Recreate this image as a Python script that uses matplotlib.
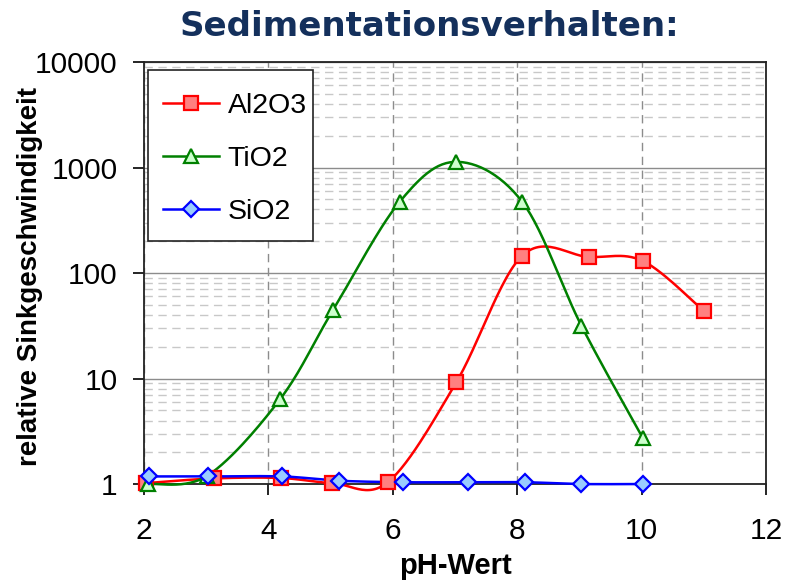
import numpy as np
import matplotlib.pyplot as plt
from matplotlib.patches import Rectangle
from matplotlib.ticker import FixedLocator, FixedFormatter, LogLocator, NullFormatter

# pH-Werte und relative Sinkgeschwindigkeiten
al2o3_ph = [2.04, 3.12, 4.20, 5.03, 5.92, 7.02, 8.08, 9.15, 10.02, 11.0]
al2o3_v = [1.02, 1.13, 1.14, 1.02, 1.04, 9.2, 146, 142, 130, 43.7]

tio2_ph = [2.06, 3.02, 4.19, 5.04, 6.11, 7.02, 8.08, 9.03, 10.02]
tio2_v = [1.0, 1.2, 6.4, 44.7, 473, 1132, 473, 31.8, 2.72]

sio2_ph = [2.08, 3.03, 4.22, 5.13, 6.16, 7.21, 8.12, 9.03, 10.02]
sio2_v = [1.18, 1.18, 1.18, 1.075, 1.04, 1.04, 1.04, 1.0, 1.0]

y_ticks = [1, 10, 100, 1000, 10000]
y_labels = ["1", "10", "100", "1000", "10000"]
x_ticks = [2, 4, 6, 8, 10, 12]

plt.rcParams['font.family'] = ['Liberation Sans', 'DejaVu Sans']


def smooth(x, y, ax, n=30):
    # Bezier-Glaettung wie in Excel, in Bildschirmkoordinaten gerechnet
    pts = ax.transData.transform(np.column_stack([x, y]))
    out = []
    for i in range(len(pts) - 1):
        p0 = pts[max(i - 1, 0)]
        p1 = pts[i]
        p2 = pts[i + 1]
        p3 = pts[min(i + 2, len(pts) - 1)]
        c1 = p1 + (p2 - p0) / 6.0
        c2 = p2 - (p3 - p1) / 6.0
        t = np.linspace(0, 1, n)[:, None]
        seg = ((1 - t) ** 3) * p1 + 3 * ((1 - t) ** 2) * t * c1 + 3 * (1 - t) * t ** 2 * c2 + t ** 3 * p2
        out.append(seg if i == 0 else seg[1:])
    out = np.vstack(out)
    d = ax.transData.inverted().transform(out)
    return d[:, 0], d[:, 1]


fig = plt.figure(figsize=(7.93, 5.85), dpi=100)
ax = fig.add_axes([0.1816, 0.1726, 0.7844, 0.7214])
ax.set_xlim(2, 12)
ax.set_yscale('log')
ax.set_ylim(1, 10000)

# Gitter
ax.yaxis.set_major_locator(FixedLocator(y_ticks))
ax.yaxis.set_major_formatter(FixedFormatter(y_labels))
ax.yaxis.set_minor_locator(LogLocator(base=10, subs=np.arange(2, 10)))
ax.yaxis.set_minor_formatter(NullFormatter())
ax.xaxis.set_major_locator(FixedLocator(x_ticks))
ax.grid(axis='y', which='major', color='#8c8c8c', linewidth=1.0, linestyle='-')
ax.grid(axis='y', which='minor', color='#c8c8c8', linewidth=1.0, linestyle=(0, (6, 4)))
ax.grid(axis='x', which='major', color='#8c8c8c', linewidth=1.0, linestyle=(0, (6, 4)))
ax.tick_params(axis='y', which='minor', length=0)
ax.tick_params(axis='both', which='major', direction='out', length=8, width=1.2,
               labelsize=21.5)
ax.tick_params(axis='x', pad=16)
ax.tick_params(axis='y', pad=11)
for s in ax.spines.values():
    s.set_color('#222222')
    s.set_linewidth(1.3)
ax.set_axisbelow(True)

series = [
    ("Al2O3", al2o3_ph, al2o3_v, 'red', '#ff8080', 's', 9.5),
    ("TiO2", tio2_ph, tio2_v, 'green', '#ccffcc', '^', 10),
    ("SiO2", sio2_ph, sio2_v, 'blue', '#99ccff', 'D', 8),
]

handles = []
for name, x, y, col, face, mk, ms in series:
    sx, sy = smooth(x, y, ax)
    ax.plot(sx, sy, color=col, linewidth=1.8, clip_on=False, zorder=3)
    ax.plot(x, y, linestyle='none', marker=mk, markersize=ms, markerfacecolor=face,
            markeredgecolor=col, markeredgewidth=1.6, clip_on=False, zorder=4)
    h, = ax.plot([], [], color=col, linewidth=1.8, marker=mk, markersize=ms,
                 markerfacecolor=face, markeredgecolor=col, markeredgewidth=1.6)
    handles.append(h)

# Legendenrahmen separat, damit Innenabstaende frei waehlbar sind
ax.add_patch(Rectangle((0.0064, 0.576), 0.2653, 0.405, transform=ax.transAxes,
                       facecolor='white', edgecolor='#222222', linewidth=1.2,
                       zorder=5, clip_on=False))
leg = ax.legend(handles, [s[0] for s in series], loc='upper left',
                bbox_to_anchor=(0.0305, 0.926), fontsize=20.5, frameon=False,
                handlelength=1.95, labelspacing=0.94, borderpad=0, handletextpad=0.32,
                borderaxespad=0)
leg.set_zorder(6)

ax.set_xlabel("pH-Wert", fontsize=21, fontweight='bold', va='center')
ax.xaxis.set_label_coords(0.5, -0.194)
ax.set_ylabel("relative Sinkgeschwindigkeit", fontsize=20, fontweight='bold', va='center')
ax.yaxis.set_label_coords(-0.183, 0.492)

fig.text(0.542, 0.955, "Sedimentationsverhalten:", fontsize=24.5, fontweight='bold',
         color='#14305c', ha='center', va='center', family='DejaVu Sans')

fig.savefig("out.png", dpi=100)
